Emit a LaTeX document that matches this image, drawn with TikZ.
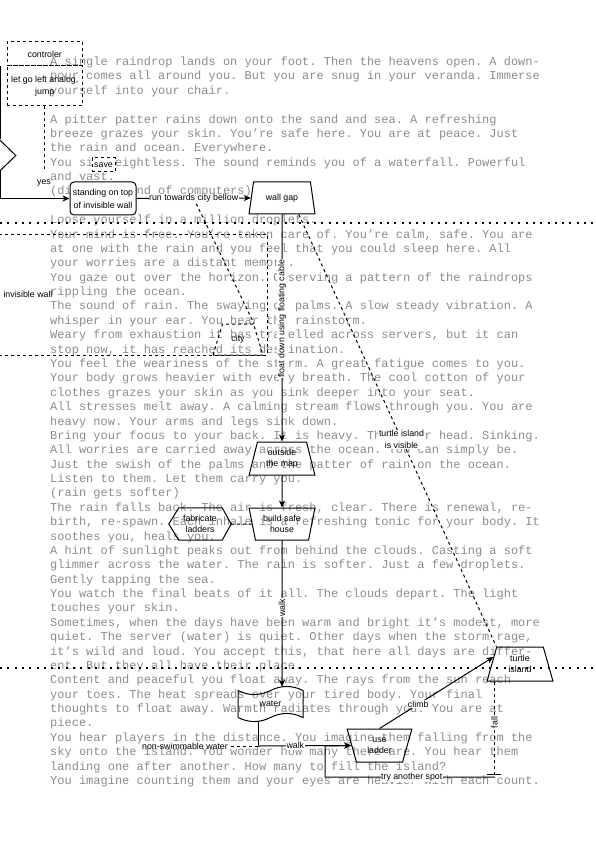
\documentclass[tikz,border=0pt]{standalone}
\usepackage{fontspec}
\setmainfont{Liberation Sans}
\newfontfamily\monofont{Liberation Mono}
\usetikzlibrary{arrows.meta,shapes.geometric,calc}
\definecolor{txtgray}{RGB}{140,140,140}
\newcommand{\lblf}{\fontsize{8.8}{11.5}\selectfont}
\newcommand{\txtf}{\fontsize{12}{14.4}\selectfont\monofont}
\frenchspacing
\begin{document}
\begin{tikzpicture}[x=1pt,y=-1pt,
  ln/.style={line width=1pt},
  arr/.style={line width=1pt,-{Stealth[length=7pt,width=6pt,inset=2pt]}},
  dsh/.style={line width=1pt,dash pattern=on 3pt off 3pt},
  dotl/.style={line width=2pt,dash pattern=on 2pt off 5.3pt},
  lbl/.style={font=\lblf, fill=white, inner sep=0.6pt},
  tr/.style={trapezium, draw, line width=1pt, trapezium stretches=true, inner sep=0pt, font=\lblf, align=center},
  txt/.style={font=\txtf, text=txtgray, anchor=base west, inner sep=0pt},
]
\useasboundingbox (0,0) rectangle (596,842);
\clip (0,0) rectangle (596,842);

% background text
\foreach \l [count=\i] in {
{A single raindrop lands on your foot. Then the heavens open. A down-},
{pour comes all around you. But you are snug in your veranda. Immerse},
{yourself into your chair.},
{},
{A pitter patter rains down onto the sand and sea. A refreshing},
{breeze grazes your skin. You’re safe here. You are at peace. Just},
{the rain and ocean. Everywhere.},
{You sit weightless. The sound reminds you of a waterfall. Powerful},
{and vast.},
{(distant sound of computers)},
{},
{Loose yourself in a million droplets.},
{Your mind is free. You’re taken care of. You’re calm, safe. You are},
{at one with the rain and you feel that you could sleep here. All},
{your worries are a distant memory.},
{You gaze out over the horizon. Observing a pattern of the raindrops},
{rippling the ocean.},
{The sound of rain. The swaying of palms. A slow steady vibration. A},
{whisper in your ear. You hear the rainstorm.},
{Weary from exhaustion it has travelled across servers, but it can},
{stop now, it has reached its destination.},
{You feel the weariness of the storm. A great fatigue comes to you.},
{Your body grows heavier with every breath. The cool cotton of your},
{clothes grazes your skin as you sink deeper into your seat.},
{All stresses melt away. A calming stream flows through you. You are},
{heavy now. Your arms and legs sink down.},
{Bring your focus to your back. It is heavy. Then your head. Sinking.},
{All worries are carried away across the ocean. You can simply be.},
{Just the swish of the palms and the patter of rain on the ocean.},
{Listen to them. Let them carry you.},
{(rain gets softer)},
{The rain falls back. The air is fresh, clear. There is renewal, re-},
{birth, re-spawn. Each inhale is a refreshing tonic for your body. It},
{soothes you, heals you.},
{A hint of sunlight peaks out from behind the clouds. Casting a soft},
{glimmer across the water. The rain is softer. Just a few droplets.},
{Gently tapping the sea.},
{You watch the final beats of it all. The clouds depart. The light},
{touches your skin.},
{Sometimes, when the days have been warm and bright it’s modest, more},
{quiet. The server (water) is quiet. Other days when the storm rage,},
{it’s wild and loud. You accept this, that here all days are differ-},
{ent. But they all have their place.},
{Content and peaceful you float away. The rays from the sun reach},
{your toes. The heat spreads over your tired body. Your final},
{thoughts to float away. Warmth radiates through you. You are at},
{piece.},
{You hear players in the distance. You imagine them falling from the},
{sky onto the island. You wonder how many there are. You hear them},
{landing one after another. How many to fill the island?},
{You imagine counting them and your eyes are heavier with each count.}
} \node[txt] (t\i) at (50,{65.5+14.38*(\i-1)}) {\l};

% lane separators
\draw[dotl] (0,223) -- (596,223);
\draw[dotl] (0,668) -- (596,668);

% nodes
\node[draw, dsh, minimum width=478pt, minimum height=121pt, inner sep=0, font=\lblf] (iwall) at (28,294.5) {invisible wall};
\node[draw, dsh, minimum width=75.5pt, minimum height=24pt, font=\lblf, inner sep=0] (ctrl) at (44.75,54) {controler};
\node[draw, dsh, minimum width=75.5pt, minimum height=40pt, font=\lblf, align=center, inner sep=0] (lane) at (44.75,86) {let go left analog,\\jump};
\node[draw, dsh, fill=white, minimum width=23pt, minimum height=14pt, inner sep=0, font=\lblf] (save) at (103.5,165) {save};
\node[diamond, draw, line width=1pt, minimum width=32pt, minimum height=31pt, inner sep=0] (dia) at (0,155.5) {};
\node[draw, line width=1pt, rounded corners=4pt, fill=white, minimum width=66pt, minimum height=33pt, inner sep=0, align=center, font=\lblf] (stand) at (103,198.5) {standing on top\\[1.5pt]of invisible wall};
\node[tr, trapezium left angle=72.6, trapezium right angle=72.6, minimum width=66pt, minimum height=32pt] (wg) at (282,198) {wall gap};
\node[tr, dsh, trapezium left angle=64, trapezium right angle=64, minimum width=50pt, minimum height=31pt] (city) at (238,339.5) {city};
\node[tr, trapezium left angle=74.7, trapezium right angle=74.7, minimum width=66pt, minimum height=33pt] (out) at (282,458.5) {outside\\the map};
\node[tr, trapezium left angle=104, trapezium right angle=104, minimum width=66pt, minimum height=32pt] (build) at (282,524) {build safe\\house};
\node[font=\lblf, align=center, minimum width=62pt, minimum height=32pt, inner sep=0] (fab) at (200,524) {fabricate\\ladders};
\draw[ln] (fab.west) -- ([xshift=10pt]fab.north west) -- ([xshift=-9pt]fab.north east) -- (fab.east) -- ([xshift=-9pt]fab.south east) -- ([xshift=10pt]fab.south west) -- cycle;
\node[font=\lblf, minimum width=65pt, minimum height=36pt, inner sep=0] (water) at (270.5,704) {water};
\draw[ln] (238,690.5) .. controls (248.83,695.9) and (259.67,695.9) .. (270.5,690.5)
  .. controls (281.33,685.1) and (292.17,685.1) .. (303,690.5) -- (303,717.5)
  .. controls (292.17,712.1) and (281.33,712.1) .. (270.5,717.5)
  .. controls (259.67,722.9) and (248.83,722.9) .. (238,717.5) -- cycle;
\node[tr, trapezium left angle=106.9, trapezium right angle=106.9, minimum width=65pt, minimum height=33pt] (ladder) at (379.5,745.5) {use\\ladder};
\node[tr, trapezium left angle=75.2, trapezium right angle=75.2, minimum width=66pt, minimum height=34pt] (ti) at (520,664) {turtle\\island};

% connectors
\coordinate (diatop) at (0,66);
\draw[ln] (diatop) -- (dia.north);
\coordinate (laneend) at (44.75,172);
\draw[dsh] (lane.south) -- (laneend);
\draw[arr] (dia.south) |- (stand.west);
\node[font=\lblf, inner sep=0] (yes) at (44,183.5) {yes};

\coordinate (runmid) at ($(stand.east)!0.5!(wg.west)$);
\draw[dsh] (runmid) -- (city.top right corner);
\draw[arr] (stand.east) -- node[lbl] (runl) {run towards city bellow} (wg.west);

\draw[arr] (wg.south) -- node[lbl, rotate=90, pos=0.46] (floatl) {float down using floating cable} (out.north);
\draw[arr] (out.south) -- (build.north);
\draw[dsh] (fab.east) -- (build.west);

\coordinate (wtop) at (282,686.8);
\draw[arr] (build.south) -- node[lbl, rotate=90, pos=0.46] (walk1) {walk} (wtop);
\coordinate (wbot) at (258,720.5);
\coordinate (wj) at (258,746);
\draw[ln] (wbot) -- (wj);
\node[font=\lblf, inner sep=0.6pt] (nsw) at (185,746) {non-swimmable water};
\draw[dsh] (wj) -- (nsw.east);
\draw[arr] (wj) -- node[lbl, pos=0.4] (walk2) {walk} (ladder.west);

\draw[arr] (ladder.north) -- node[lbl, pos=0.34] (climbl) {climb} ($(ti.top left corner)!0.3!(ti.bottom left corner)$);
\draw[dsh] ($(wg.bottom left corner)!0.75!(wg.bottom right corner)$) -- node[lbl, pos=0.52, align=center] (visl) {turtle island\\is visible} (ti.top left corner);

\coordinate (fs) at ($(ti.bottom left corner)!0.12!(ti.bottom right corner)$);
\coordinate (fe) at (fs |- 0,775);
\draw[dsh, -{Bar[width=14pt]}] (fs) -- node[lbl, rotate=90, pos=0.44] (falll) {fall} (fe);
\coordinate (ts) at (495,777);
\coordinate (tj) at (325,746);
\draw[arr] (ts) -| node[lbl, pos=0.245] (tryl) {try another spot} (tj) -- (ladder.west);
\end{tikzpicture}
\end{document}
